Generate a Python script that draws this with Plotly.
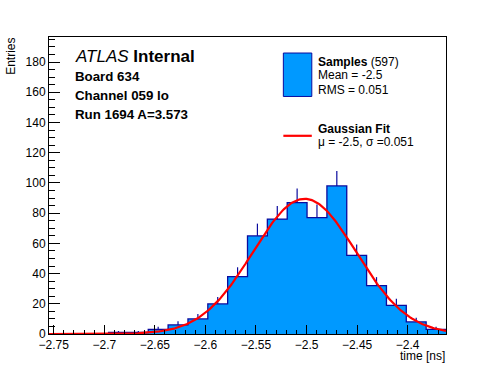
import numpy as np
import plotly.graph_objects as go

# ---- data ----
bin_low = -2.7547
bin_width = 0.01963
counts = [0, 0, 0, 1, 1, 3, 6, 10, 20, 38, 65, 76, 87, 77, 98, 52, 32, 19, 8, 3]
fit_mu = -2.502
fit_sigma = 0.051
fit_amp = 89.5
n_entries = 597
mean_txt = "-2.5"
rms_txt = "0.051"
x_title = "time [ns]"
y_title = "Entries"
info_lines = ["Board 634", "Channel 059 lo", "Run 1694 A=3.573"]

counts = np.array(counts, dtype=float)
nb = len(counts)
edges = bin_low + bin_width * np.arange(nb + 1)
centers = 0.5 * (edges[:-1] + edges[1:])
xmin, xmax = edges[0], edges[-1]

FILL = "#0099ff"
LINE = "#0a0a9e"
FONT = "Liberation Sans, Arial, Helvetica, sans-serif"

W, H = 496, 372
L, R, T, B = 49.3, 445.7, 37.3, 334.0


def px(x):
    return (x - L) / (R - L)


def py(y):
    return (B - y) / (B - T)


fig = go.Figure()
fig.add_trace(go.Bar(x=centers, y=counts, width=bin_width, marker=dict(color=FILL, line=dict(width=0)),
                     showlegend=False, hoverinfo="skip"))
# step outline
fig.add_trace(go.Scatter(x=list(edges), y=list(counts) + [counts[-1]], mode="lines",
                         line=dict(color=LINE, width=1.3, shape="hv"), showlegend=False, hoverinfo="skip"))
# error bars (upper part visible)
nz = counts > 0
fig.add_trace(go.Scatter(x=centers[nz], y=counts[nz], mode="markers",
                         marker=dict(size=0.1, color=LINE),
                         error_y=dict(type="data", symmetric=False, array=np.sqrt(counts[nz]),
                                      arrayminus=np.zeros(int(nz.sum())),
                                      color=LINE, thickness=1.2, width=0),
                         showlegend=False, hoverinfo="skip"))
# gaussian fit function
xf = np.linspace(xmin, xmax, 300)
yf = fit_amp * np.exp(-0.5 * ((xf - fit_mu) / fit_sigma) ** 2)
fig.add_trace(go.Scatter(x=xf, y=yf, mode="lines", line=dict(color="#ff0000", width=2.2),
                         showlegend=False, hoverinfo="skip"))

ann = []
ann.append(dict(x=px(73.5), y=py(56.5), xref="paper", yref="paper", xanchor="left", yanchor="middle",
                text="<i>ATLAS</i> <b>Internal</b>", showarrow=False, font=dict(size=17, color="black", family=FONT)))
for i, t in enumerate(info_lines):
    ann.append(dict(x=px(73.5), y=py(76.5 + 19 * i), xref="paper", yref="paper", xanchor="left", yanchor="middle",
                    text="<b>%s</b>" % t, showarrow=False, font=dict(size=13.3, color="black", family=FONT)))
# legend
lx = 315.5
leg = [
    (62, "<b>Samples</b> (%d)" % n_entries),
    (75.5, "Mean = %s" % mean_txt),
    (90, "RMS = %s" % rms_txt),
    (129.5, "<b>Gaussian Fit</b>"),
    (142, "μ = %s, σ =%s" % (mean_txt, rms_txt)),
]
for yy, t in leg:
    ann.append(dict(x=px(lx), y=py(yy), xref="paper", yref="paper", xanchor="left", yanchor="middle",
                    text=t, showarrow=False, font=dict(size=12, color="black", family=FONT)))
ann.append(dict(x=px(447), y=py(356), xref="paper", yref="paper", xanchor="right", yanchor="middle",
                text=x_title, showarrow=False, font=dict(size=12, color="black", family=FONT)))
ann.append(dict(x=px(12), y=py(36), xref="paper", yref="paper", xanchor="center", yanchor="top",
                text=y_title, textangle=-90, showarrow=False, font=dict(size=12, color="black", family=FONT)))

shapes = [
    dict(type="rect", xref="paper", yref="paper", x0=px(283.3), x1=px(311.7), y0=py(96.7), y1=py(53.3),
         fillcolor=FILL, line=dict(color=LINE, width=1)),
    dict(type="line", xref="paper", yref="paper", x0=px(283.3), x1=px(311.7), y0=py(136), y1=py(136),
         line=dict(color="#ff0000", width=2.2)),
]

fig.update_layout(
    width=W, height=H,
    margin=dict(l=L, r=W - R, t=T, b=H - B, pad=0),
    paper_bgcolor="white", plot_bgcolor="white",
    bargap=0, showlegend=False,
    annotations=ann, shapes=shapes,
    font=dict(family=FONT, size=12, color="black"),
    xaxis=dict(range=[xmin, xmax], dtick=0.05, tick0=-2.75, ticks="inside", ticklen=9, tickwidth=1,
               tickcolor="black", showline=True, linecolor="black", linewidth=1, mirror=True,
               showgrid=False, zeroline=False, tickfont=dict(size=12, family=FONT),
               minor=dict(dtick=0.01, ticks="inside", ticklen=4.5, tickcolor="black", showgrid=False)),
    yaxis=dict(range=[0, 196.6], dtick=20, ticks="inside", ticklen=11, tickwidth=1,
               tickcolor="black", showline=True, linecolor="black", linewidth=1, mirror=True,
               showgrid=False, zeroline=False, tickfont=dict(size=12, family=FONT),
               ticklabelstandoff=0,
               minor=dict(dtick=5, ticks="inside", ticklen=5.5, tickcolor="black", showgrid=False)),
)

fig.write_html("out.html", config={"displayModeBar": False},
               post_script="document.body.style.margin='0';document.body.style.padding='0';")
